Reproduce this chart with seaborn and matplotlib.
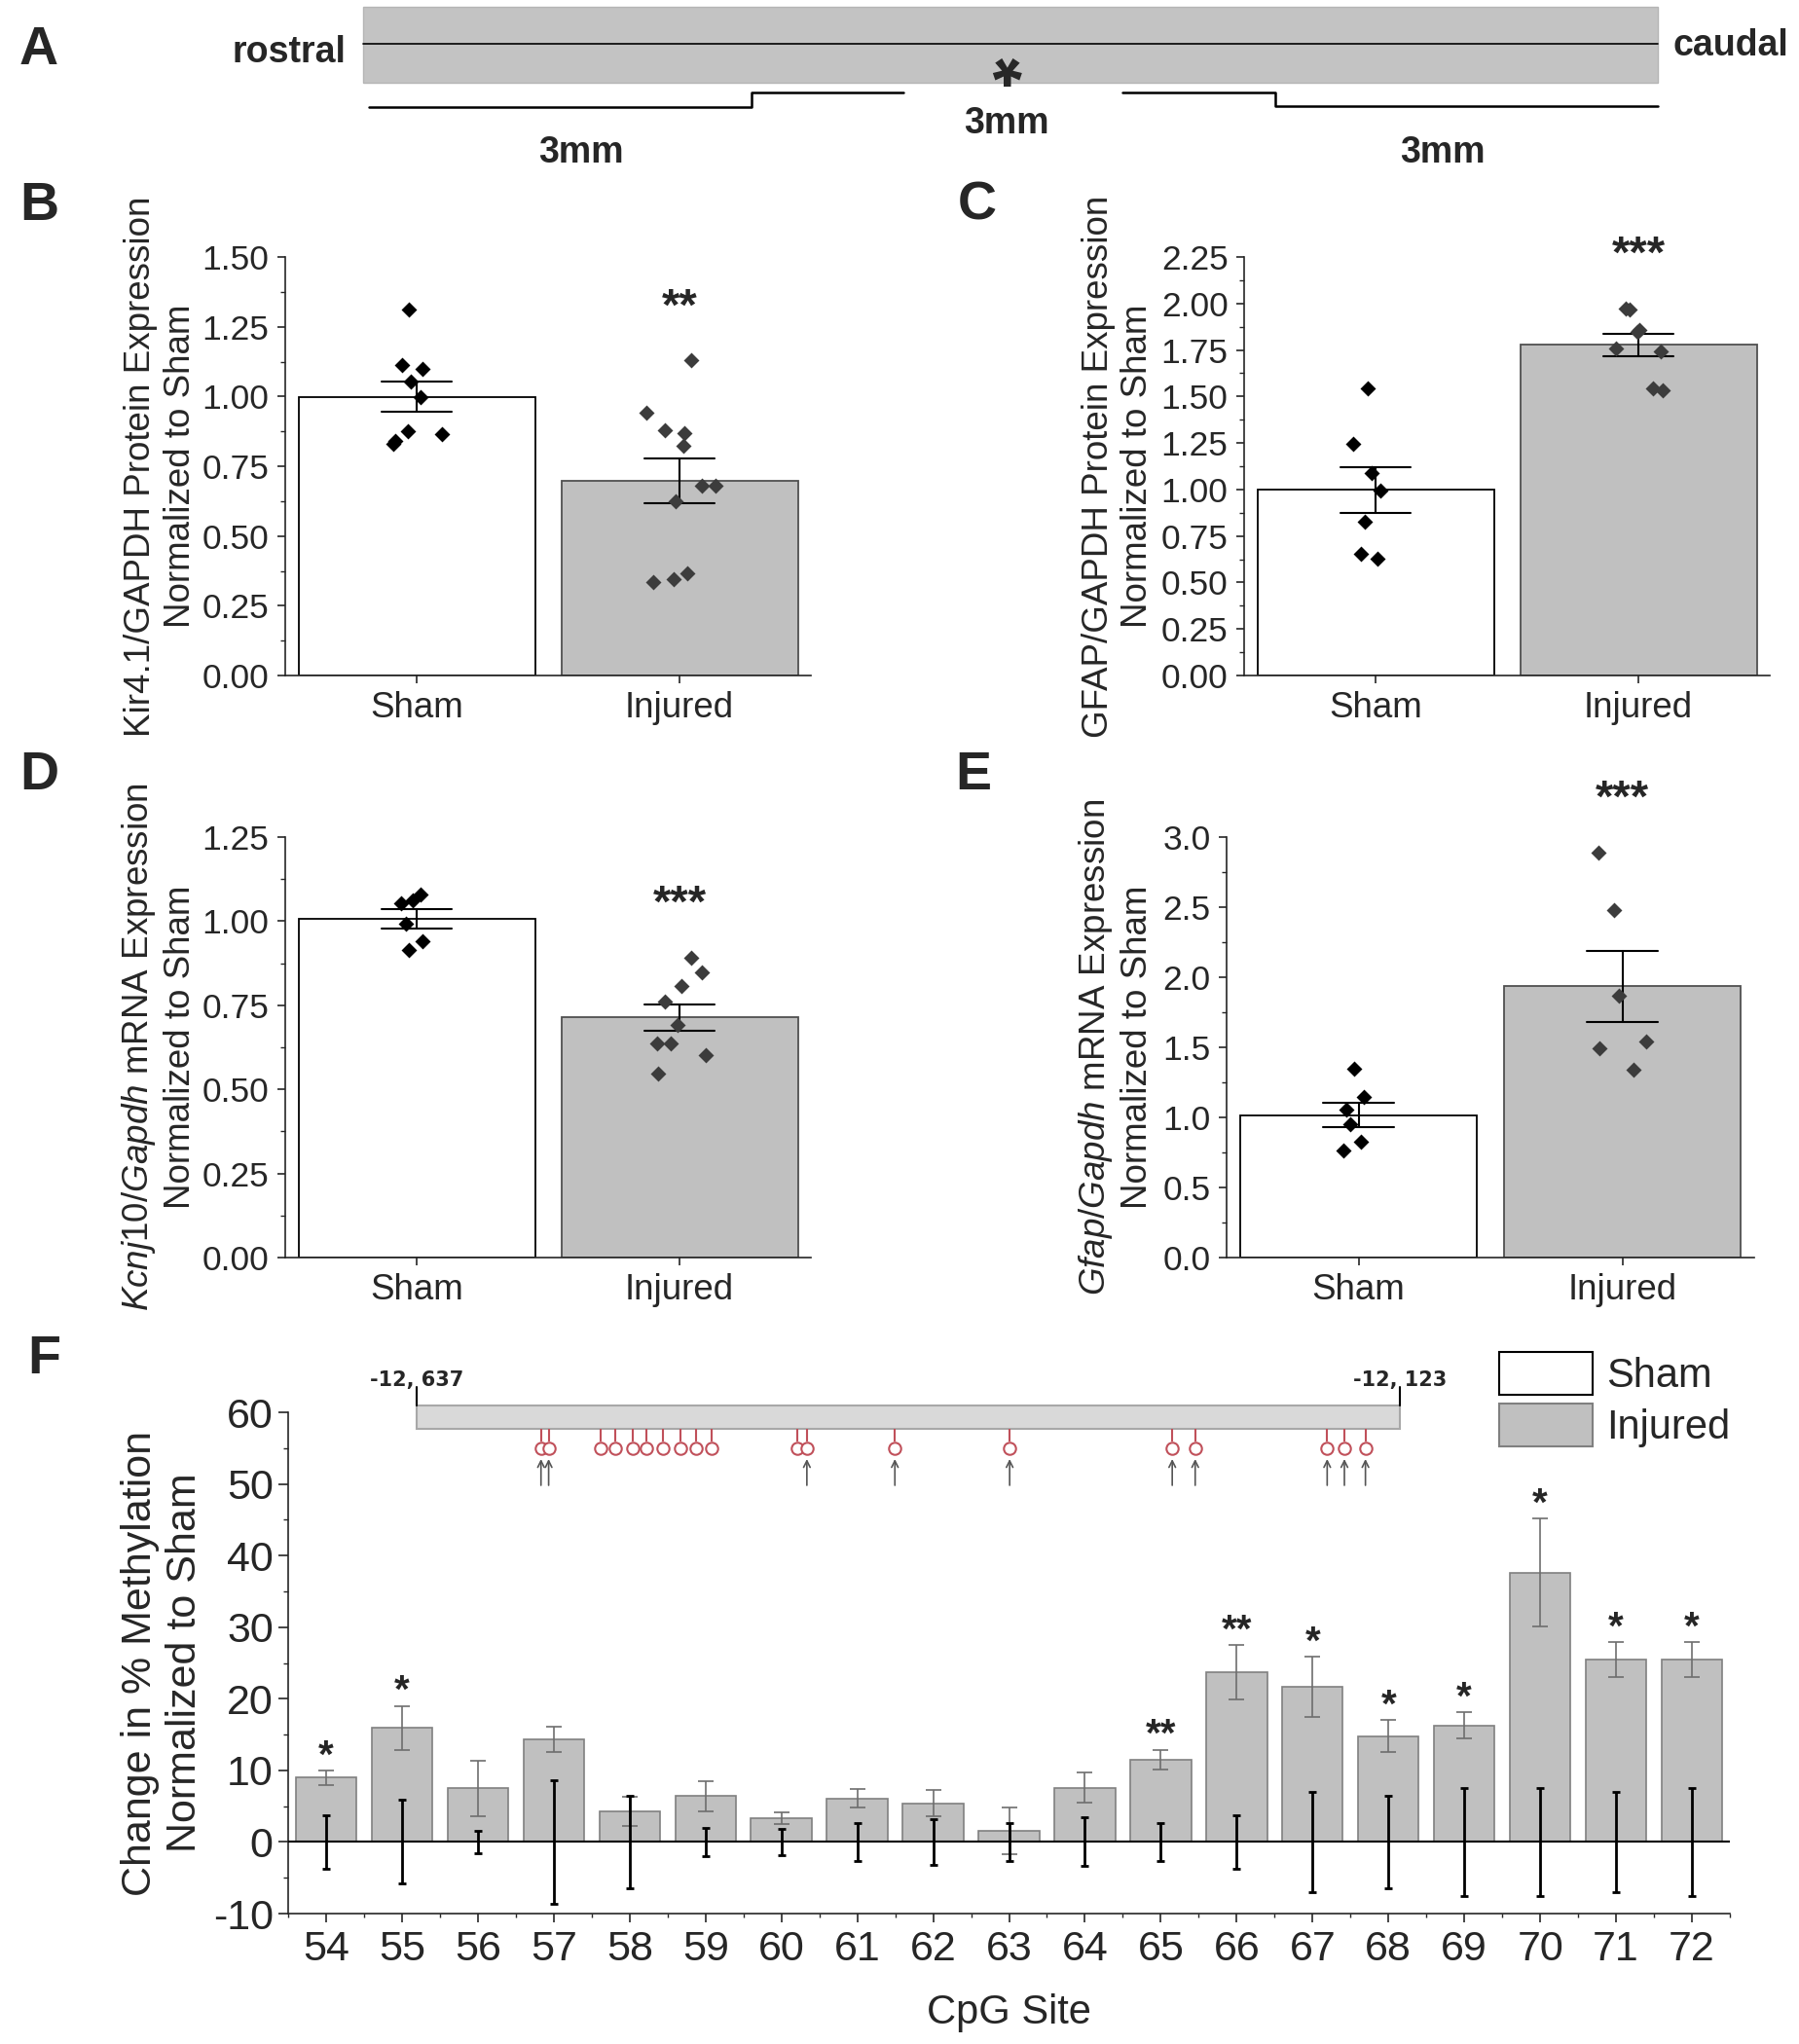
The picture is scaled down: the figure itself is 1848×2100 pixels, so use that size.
import numpy as np
import pandas as pd
import matplotlib
matplotlib.use('Agg')
import matplotlib.pyplot as plt
from matplotlib.patches import Rectangle, Patch
from matplotlib.ticker import MultipleLocator, FormatStrFormatter
import seaborn as sns

# ---------------- data ----------------
groups = ['Sham', 'Injured']

# B: Kir4.1/GAPDH protein
kir_sham = [1.313, 1.113, 1.100, 1.055, 0.997, 0.874, 0.864, 0.839, 0.829]
kir_sham_dx = [-0.031, -0.054, 0.023, -0.022, 0.014, -0.034, 0.095, -0.081, -0.088]
kir_inj = [1.129, 0.942, 0.879, 0.867, 0.822, 0.680, 0.680, 0.625, 0.334, 0.347, 0.367]
kir_inj_dx = [0.045, -0.126, -0.054, 0.018, 0.013, 0.085, 0.138, -0.014, -0.099, -0.023, 0.031]

# C: GFAP/GAPDH protein
gfap_sham = [1.543, 1.247, 1.088, 0.995, 0.827, 0.656, 0.627]
gfap_sham_dx = [-0.030, -0.087, -0.016, 0.020, -0.040, -0.056, 0.008]
gfap_inj = [1.975, 1.965, 1.860, 1.845, 1.756, 1.743, 1.545, 1.534]
gfap_inj_dx = [-0.050, -0.034, 0.004, -0.004, -0.087, 0.085, 0.054, 0.091]

# D: Kcnj10/Gapdh mRNA
kcnj_sham = [1.052, 1.063, 1.079, 0.993, 0.939, 0.913]
kcnj_sham_dx = [-0.058, -0.013, 0.014, -0.040, 0.023, -0.031]
kcnj_inj = [0.891, 0.848, 0.807, 0.760, 0.691, 0.637, 0.637, 0.603, 0.546]
kcnj_inj_dx = [0.045, 0.085, 0.009, -0.054, -0.009, -0.086, -0.032, 0.099, -0.081]

# E: Gfap/Gapdh mRNA
gfapm_sham = [1.350, 1.144, 1.059, 0.951, 0.828, 0.766]
gfapm_sham_dx = [-0.016, 0.020, -0.046, -0.030, 0.010, -0.056]
gfapm_inj = [2.892, 2.476, 1.869, 1.542, 1.496, 1.342]
gfapm_inj_dx = [-0.089, -0.030, -0.014, 0.091, -0.085, 0.042]

# F: CpG methylation change
cpg_sites = list(range(54, 73))
f_injured = [9.0, 15.9, 7.5, 14.3, 4.3, 6.4, 3.3, 6.1, 5.4, 1.55, 7.6, 11.5,
             23.7, 21.7, 14.8, 16.3, 37.6, 25.5, 25.5]
f_injured_sem = [1.0, 3.1, 3.85, 1.75, 2.0, 2.1, 0.8, 1.35, 1.8, 3.3, 2.1, 1.4,
                 3.8, 4.2, 2.2, 1.8, 7.55, 2.45, 2.45]
f_sham_sem = [3.7, 5.85, 1.55, 8.6, 6.4, 1.95, 1.8, 2.7, 3.15, 2.7, 3.4, 2.65,
              3.7, 7.05, 6.5, 7.55, 7.5, 7.05, 7.5]
f_sig = ['*', '*', '', '', '', '', '', '', '', '', '', '**',
         '**', '*', '*', '*', '*', '*', '*']

# CpG lollipops on the amplicon (bp upstream), arrows mark analysed sites
amplicon = (-12637, -12123)
cpg_pos = [-12572, -12568, -12541, -12533, -12524, -12517, -12508, -12499, -12491,
           -12483, -12438, -12433, -12387, -12327, -12242, -12230, -12161, -12152, -12141]
cpg_arrow = [1, 1, 0, 0, 0, 0, 0, 0, 0, 0, 0, 1, 1, 1, 1, 1, 1, 1, 1]

# ---------------- style ----------------
sns.set_style('ticks')
plt.rcParams['font.family'] = ['Liberation Sans', 'DejaVu Sans']
plt.rcParams['mathtext.fontset'] = 'custom'
plt.rcParams['mathtext.rm'] = 'Liberation Sans'
plt.rcParams['mathtext.it'] = 'Liberation Sans:italic'
plt.rcParams['axes.linewidth'] = 1.2

W, H = 1848, 2100
fig = plt.figure(figsize=(W / 100, H / 100), dpi=100)


def px_axes(left, right, top, bottom):
    return fig.add_axes([left / W, 1 - bottom / H, (right - left) / W, (bottom - top) / H])


pal = {'Sham': 'white', 'Injured': '#c0c0c0'}
pt_color = {'Sham': 'black', 'Injured': '#3c3c3c'}
STAR_FS = 34


def bar_panel(ax, sham, sham_dx, inj, inj_dx, ymax, major, fmt, ylabel, stars, label_x):
    df = pd.DataFrame({'group': ['Sham'] * len(sham) + ['Injured'] * len(inj),
                       'value': sham + inj})
    sns.barplot(data=df, x='group', y='value', order=groups, hue='group', hue_order=groups,
                palette=pal, legend=False, width=0.9, errorbar='se', capsize=0.27,
                err_kws={'color': 'black', 'linewidth': 1.5},
                edgecolor='black', linewidth=1.3, ax=ax)
    ax.patches[1].set_edgecolor('#505050')
    for i, (vals, dx) in enumerate([(sham, sham_dx), (inj, inj_dx)]):
        ax.scatter(i + np.array(dx), vals, marker='D', s=66, color=pt_color[groups[i]],
                   linewidths=0, zorder=4)
    ax.annotate(stars, xy=(1, max(inj) + 0.15 * ymax), xytext=(0, -0.48 * STAR_FS),
                textcoords='offset points', ha='center', va='baseline',
                fontsize=STAR_FS, fontweight='bold', annotation_clip=False)
    ax.set_xlim(-0.5, 1.5)
    ax.set_ylim(0, ymax)
    ax.yaxis.set_major_locator(MultipleLocator(major))
    ax.yaxis.set_minor_locator(MultipleLocator(major / 2))
    ax.yaxis.set_major_formatter(FormatStrFormatter(fmt))
    ax.tick_params(axis='y', which='major', length=5.8, width=1.2, labelsize=25.5, pad=6)
    ax.tick_params(axis='y', which='minor', length=3.6, width=1.0)
    ax.tick_params(axis='x', which='major', length=5.8, width=1.2, labelsize=26.5, pad=6)
    ax.set_xlabel('')
    ax.set_ylabel(ylabel, fontsize=26.5)
    ax.yaxis.set_label_coords(label_x, 0.5)
    sns.despine(ax=ax)


ax_b = px_axes(293, 833, 264, 694)
bar_panel(ax_b, kir_sham, kir_sham_dx, kir_inj, kir_inj_dx, 1.5, 0.25, '%.2f',
          'Kir4.1/GAPDH Protein Expression\nNormalized to Sham', '**', -0.167)

ax_c = px_axes(1278, 1818, 264, 694)
bar_panel(ax_c, gfap_sham, gfap_sham_dx, gfap_inj, gfap_inj_dx, 2.25, 0.25, '%.2f',
          'GFAP/GAPDH Protein Expression\nNormalized to Sham', '***', -0.170)

ax_d = px_axes(293, 833, 860, 1292)
bar_panel(ax_d, kcnj_sham, kcnj_sham_dx, kcnj_inj, kcnj_inj_dx, 1.25, 0.25, '%.2f',
          '$\\mathit{Kcnj10/Gapdh}$ mRNA Expression\nNormalized to Sham', '***', -0.167)

ax_e = px_axes(1260, 1802, 860, 1292)
bar_panel(ax_e, gfapm_sham, gfapm_sham_dx, gfapm_inj, gfapm_inj_dx, 3.0, 0.5, '%.1f',
          '$\\mathit{Gfap/Gapdh}$ mRNA Expression\nNormalized to Sham', '***', -0.137)

# ---------------- F ----------------
ax_f = px_axes(296, 1777, 1451, 1966)
n = len(cpg_sites)
f_df = pd.DataFrame({'site': [str(s) for s in cpg_sites] * 2,
                     'group': ['Sham'] * n + ['Injured'] * n,
                     'change': [0.0] * n + f_injured})
sns.barplot(data=f_df, x='site', y='change', hue='group', hue_order=groups, dodge=False,
            palette=pal, width=0.8, errorbar=None, edgecolor='#808080', linewidth=1.2,
            legend=False, ax=ax_f)
xpos = np.arange(n)
ax_f.errorbar(xpos, f_injured, yerr=f_injured_sem, fmt='none', ecolor='#6e6e6e',
              elinewidth=1.2, capsize=6, capthick=1.2, zorder=3)
ax_f.errorbar(xpos, np.zeros(n), yerr=f_sham_sem, fmt='none', ecolor='black',
              elinewidth=2, capsize=3.2, capthick=2, zorder=4)
ax_f.axhline(0, color='black', lw=1.5, zorder=5)
for i, s in enumerate(f_sig):
    if s:
        ax_f.annotate(s, xy=(i, f_injured[i] + f_injured_sem[i]), xytext=(0, 2.5),
                      textcoords='offset points', ha='center', va='baseline',
                      fontsize=29, fontweight='bold')
ax_f.set_xlim(-0.5, n - 0.5)
ax_f.set_ylim(-10, 60)
ax_f.yaxis.set_major_locator(MultipleLocator(10))
ax_f.yaxis.set_minor_locator(MultipleLocator(5))
ax_f.yaxis.set_major_formatter(FormatStrFormatter('%d'))
ax_f.set_xticks(np.arange(-0.5, n, 1.0), minor=True)
ax_f.tick_params(axis='y', which='major', length=7, width=1.2, labelsize=31, pad=4)
ax_f.tick_params(axis='y', which='minor', length=3.5, width=1.0)
ax_f.tick_params(axis='x', which='major', length=6.5, width=1.2, labelsize=31, pad=6)
ax_f.tick_params(axis='x', which='minor', length=3.2, width=1.0)
ax_f.set_xlabel('CpG Site', fontsize=30, labelpad=18)
ax_f.set_ylabel('Change in % Methylation\nNormalized to Sham', fontsize=31)
ax_f.yaxis.set_label_coords(-0.058, 0.5)
sns.despine(ax=ax_f)

handles = [Patch(facecolor=pal['Sham'], edgecolor='black', linewidth=1.5),
           Patch(facecolor=pal['Injured'], edgecolor='#808080', linewidth=1.5)]
ax_f.legend(handles, groups, loc='upper left', bbox_to_anchor=(1540 / W, 1 - 1389 / H),
            bbox_transform=fig.transFigure, frameon=False, fontsize=30,
            handlelength=2.3, handleheight=1.25, handletextpad=0.34,
            labelspacing=0.2, borderpad=0, borderaxespad=0)

# amplicon schematic above F (y in pixels below its top edge)
ax_s = px_axes(428, 1438, 1400, 1530)
ax_s.set_xlim(*amplicon)
ax_s.set_ylim(130, 0)
ax_s.axis('off')
ax_s.add_patch(Rectangle((amplicon[0], 44), amplicon[1] - amplicon[0], 24,
                         facecolor='#d9d9d9', edgecolor='#a8a8a8', lw=1.5, clip_on=False))
for end in amplicon:
    ax_s.plot([end, end], [25, 44], color='black', lw=1.5, clip_on=False)
    ax_s.text(end, 18, f'{end:,}'.replace(',', ', '), ha='center', va='center',
              fontsize=15, fontweight='bold', family='DejaVu Sans')
red = '#c0505a'
ax_s.vlines(cpg_pos, 68, 81, color=red, lw=1.5)
ax_s.scatter(cpg_pos, [88] * len(cpg_pos), s=80, facecolor='white', edgecolor=red,
             linewidths=1.5, zorder=3, clip_on=False)
for p, a in zip(cpg_pos, cpg_arrow):
    if a:
        ax_s.annotate('', xy=(p, 99), xytext=(p, 126),
                      arrowprops=dict(arrowstyle='->', color='#555555', lw=1.2,
                                      shrinkA=0, shrinkB=0, mutation_scale=12),
                      annotation_clip=False)

# ---------------- A: spinal cord schematic (pixel coords) ----------------
ax_a = fig.add_axes([0, 1 - 190 / H, 1, 190 / H])
ax_a.set_xlim(0, W)
ax_a.set_ylim(190, 0)
ax_a.axis('off')
ax_a.add_patch(Rectangle((373, 7), 1330, 78, facecolor='#c3c3c3', edgecolor='#b5b5b5', lw=1))
ax_a.plot([373, 1703], [45, 45], color='black', lw=1.2)
ax_a.plot([379, 772, 772, 928], [110, 110, 95, 95], color='black', lw=1.8)
ax_a.plot([1153, 1310, 1310, 1703], [95, 95, 109, 109], color='black', lw=1.8)
# injury site mark; turned half a circle so its text box sits above the "3mm" label
ax_a.text(1035, 54, '*', fontsize=56, fontweight='bold', ha='center', va='center',
          rotation=180)
ax_a.text(355, 54, 'rostral', fontsize=27, fontweight='bold', ha='right', va='center')
ax_a.text(1718, 47, 'caudal', fontsize=27, fontweight='bold', ha='left', va='center')
for x, y in [(597, 157), (1034, 127), (1482, 157)]:
    ax_a.text(x, y, '3mm', fontsize=27, fontweight='bold', ha='center', va='center')

for letter, x, y in [('A', 40, 52), ('B', 40, 212), ('C', 1004, 212),
                     ('D', 40, 797), ('E', 1000, 797), ('F', 45, 1397)]:
    fig.text(x / W, 1 - y / H, letter, fontsize=40, fontweight='bold', ha='center', va='center')

fig.savefig('out.png', dpi=100)
